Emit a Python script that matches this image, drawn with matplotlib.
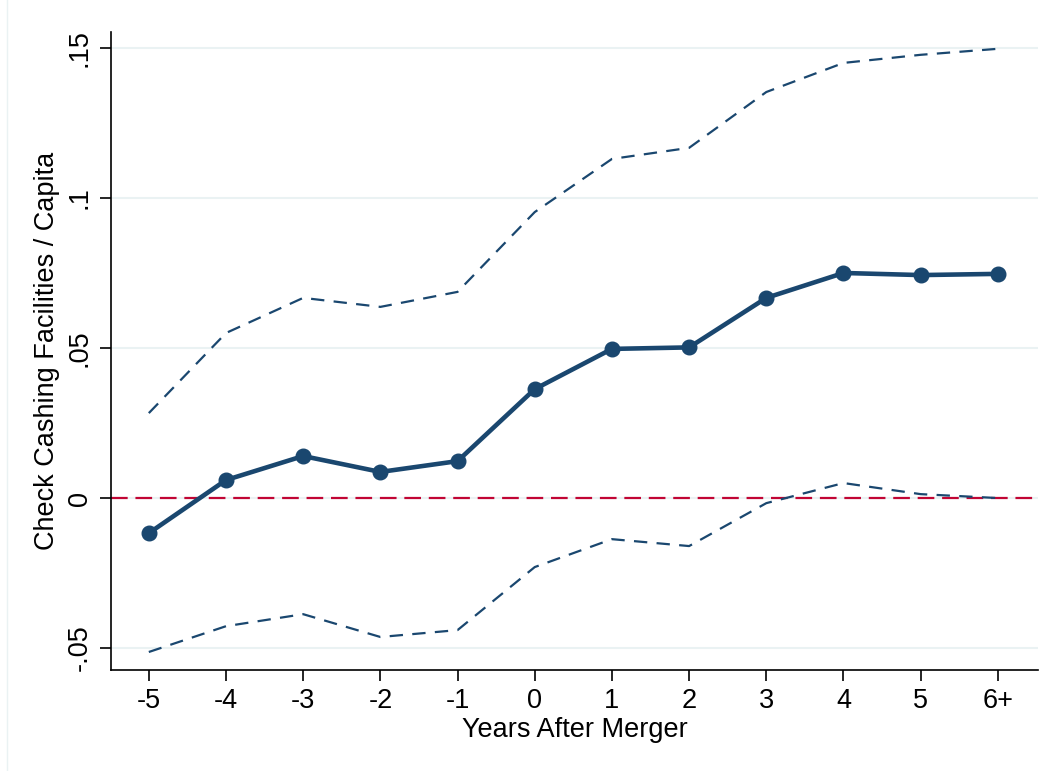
import matplotlib
matplotlib.use("Agg")
import matplotlib.pyplot as plt

years = ["-5", "-4", "-3", "-2", "-1", "0", "1", "2", "3", "4", "5", "6+"]
estimate = [-0.0117, 0.0060, 0.0140, 0.0087, 0.0123, 0.0363,
            0.0497, 0.0502, 0.0667, 0.0750, 0.0743, 0.0747]
upper_ci = [0.0283, 0.0550, 0.0667, 0.0637, 0.0687, 0.0953,
            0.1130, 0.1167, 0.1353, 0.1450, 0.1477, 0.1497]
lower_ci = [-0.0513, -0.0427, -0.0387, -0.0463, -0.0440, -0.0230,
            -0.0137, -0.0160, -0.0017, 0.0050, 0.0013, 0.0000]

navy = "#1a476f"
red = "#c10534"

plt.rcParams['font.family'] = ['Liberation Sans', 'DejaVu Sans']

fig = plt.figure(figsize=(10.5, 7.71), dpi=100)
ax = fig.add_axes([111 / 1050, 1 - 670 / 771, (1038 - 111) / 1050, (670 - 32) / 771])

x = list(range(len(years)))

for yv in [-0.05, 0, 0.05, 0.1, 0.15]:
    ax.axhline(yv, color="#eaf2f3", lw=1.5, zorder=0)
ax.axhline(0, color=red, lw=1.6, ls=(0, (7.5, 3.5)), zorder=1)

ax.plot(x, upper_ci, color=navy, lw=1.6, ls=(0, (6, 4.2)), zorder=2)
ax.plot(x, lower_ci, color=navy, lw=1.6, ls=(0, (6, 4.2)), zorder=2)
ax.plot(x, estimate, color=navy, lw=3.3, marker="o", ms=10.5, zorder=3)

ax.set_xlim(-0.49, 11.52)
ax.set_ylim(-0.0573, 0.1553)
ax.set_xticks(x)
ax.set_xticklabels(years)
ax.set_yticks([-0.05, 0, 0.05, 0.1, 0.15])
ax.set_yticklabels(["-.05", "0", ".05", ".1", ".15"], rotation=90, va="center")

for s in ["top", "right"]:
    ax.spines[s].set_visible(False)
for s in ["left", "bottom"]:
    ax.spines[s].set_linewidth(1.2)
ax.tick_params(axis="both", length=8, width=1.2, labelsize=19.5, pad=5)

ax.set_xlabel("Years After Merger", fontsize=19.5, labelpad=2)
ax.set_ylabel("Check Cashing Facilities / Capita", fontsize=19.5, labelpad=5)

fig.add_artist(plt.Line2D([7 / 1050, 7 / 1050], [0, 1], color="#eaf2f3", lw=1))

fig.savefig("out.png", dpi=100)
